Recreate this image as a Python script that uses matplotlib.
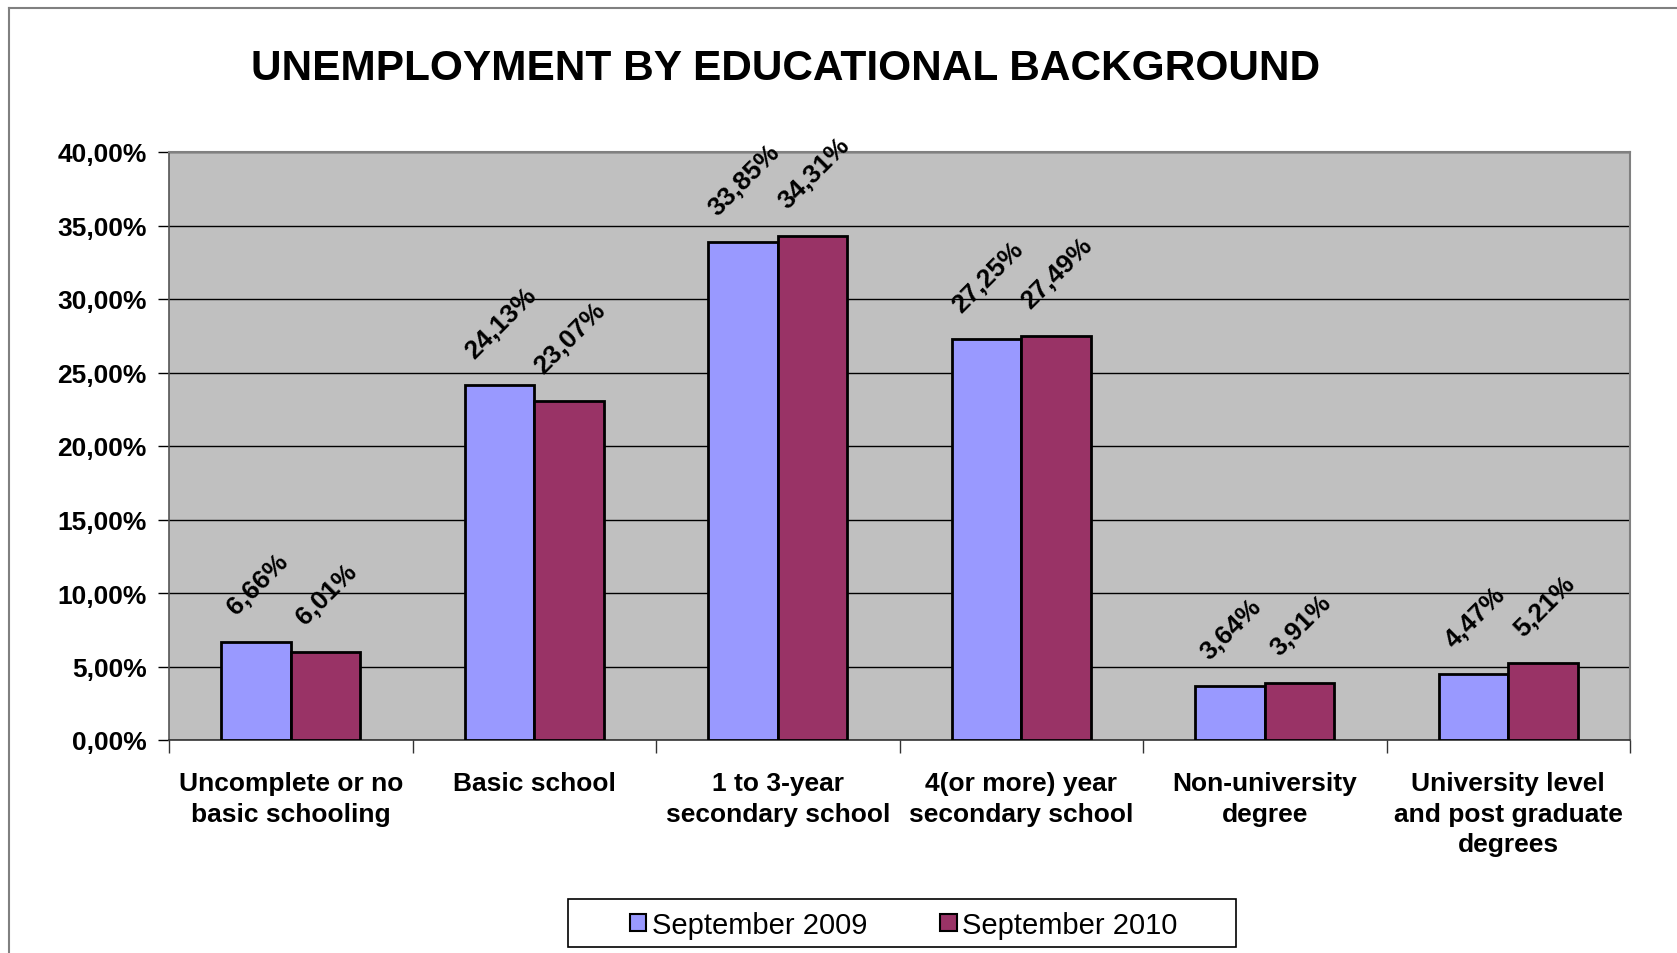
import matplotlib
matplotlib.use("Agg")
import matplotlib.pyplot as plt
import numpy as np
from matplotlib.patches import Patch, Rectangle
from matplotlib.lines import Line2D
from matplotlib.ticker import FuncFormatter, MultipleLocator, FixedLocator

plt.rcParams['font.family'] = ['Liberation Sans', 'DejaVu Sans']

categories = ["Uncomplete or no\nbasic schooling", "Basic school",
              "1 to 3-year\nsecondary school", "4(or more) year\nsecondary school",
              "Non-university\ndegree", "University level\nand post graduate\ndegrees"]
series_names = ["September 2009", "September 2010"]
sep2009 = [6.66, 24.13, 33.85, 27.25, 3.64, 4.47]
sep2010 = [6.01, 23.07, 34.31, 27.49, 3.91, 5.21]
colors = ["#9999FF", "#993366"]
title = "UNEMPLOYMENT BY EDUCATIONAL BACKGROUND"

W, H = 1677, 954
fig = plt.figure(figsize=(W/100, H/100), dpi=100)
fig.patch.set_facecolor("white")

# outer chart border (top and left visible)
fig.add_artist(Line2D([9/W, 9/W], [0, 1-9/H], color="#808080", lw=1.5, transform=fig.transFigure))
fig.add_artist(Line2D([9/W, 1], [1-9/H, 1-9/H], color="#808080", lw=1.5, transform=fig.transFigure))

ax = fig.add_axes([169/W, 1-741/H, (1630-169)/W, (741-153)/H])
ax.set_facecolor("#C0C0C0")

x = np.arange(len(categories))
w = 1/3.5
for i, (vals, col) in enumerate(zip([sep2009, sep2010], colors)):
    pos = x + (i - 0.5) * w
    ax.bar(pos, vals, width=w, color=col, edgecolor="black", linewidth=2, zorder=3)
    for px, v in zip(pos, vals):
        ax.annotate(f"{v:.2f}%".replace(".", ","), xy=(px, v), xytext=(1, 16.5),
                    textcoords="offset points", ha="center", va="bottom",
                    rotation=45, fontsize=19, fontweight="bold", zorder=5,
                    annotation_clip=False)

ax.set_xlim(-0.5, len(categories) - 0.5)
ax.set_ylim(0, 40)
ax.yaxis.set_major_locator(MultipleLocator(5))
ax.yaxis.set_major_formatter(FuncFormatter(lambda v, p: f"{v:.2f}%".replace(".", ",")))
ax.grid(axis="y", color="black", lw=1, zorder=1)
ax.set_axisbelow(True)

ax.set_xticks(x)
ax.set_xticklabels(categories, fontsize=19, fontweight="bold", linespacing=1.34)
ax.xaxis.set_minor_locator(FixedLocator(np.arange(-0.5, len(categories), 1)))
ax.tick_params(axis="x", which="major", length=0, pad=22.5)
ax.tick_params(axis="x", which="minor", length=9, width=1, color="#333333", direction="out")
ax.tick_params(axis="y", length=8, width=1, direction="out", pad=8, labelsize=19)
for lab in ax.get_yticklabels():
    lab.set_fontweight("bold")

for s in ["top", "right"]:
    ax.spines[s].set_color("#808080")
    ax.spines[s].set_linewidth(1.5)
ax.spines["left"].set_color("#555555")
ax.spines["bottom"].set_color("#333333")
ax.spines["left"].set_linewidth(1.2)
ax.spines["bottom"].set_linewidth(1.2)

fig.text(786/W, 1-69/H, title, ha="center", va="center",
         fontsize=30.5, fontweight="bold")

# legend box
fig.add_artist(Rectangle((568/W, 1-948/H), (1236-568)/W, (948-900)/H,
                         transform=fig.transFigure, facecolor="white",
                         edgecolor="black", linewidth=1.2, zorder=4))
handles = [Patch(facecolor=c, edgecolor="black", linewidth=1.5) for c in colors]
leg = fig.legend(handles, series_names, loc="center", bbox_to_anchor=(904/W, 1-926/H),
                 ncol=2, fontsize=21, frameon=False,
                 handlelength=0.55, handleheight=0.55, handletextpad=0.2,
                 columnspacing=2.5, borderpad=0.2, borderaxespad=0)
leg.set_zorder(5)

fig.savefig("out.png", dpi=100)
